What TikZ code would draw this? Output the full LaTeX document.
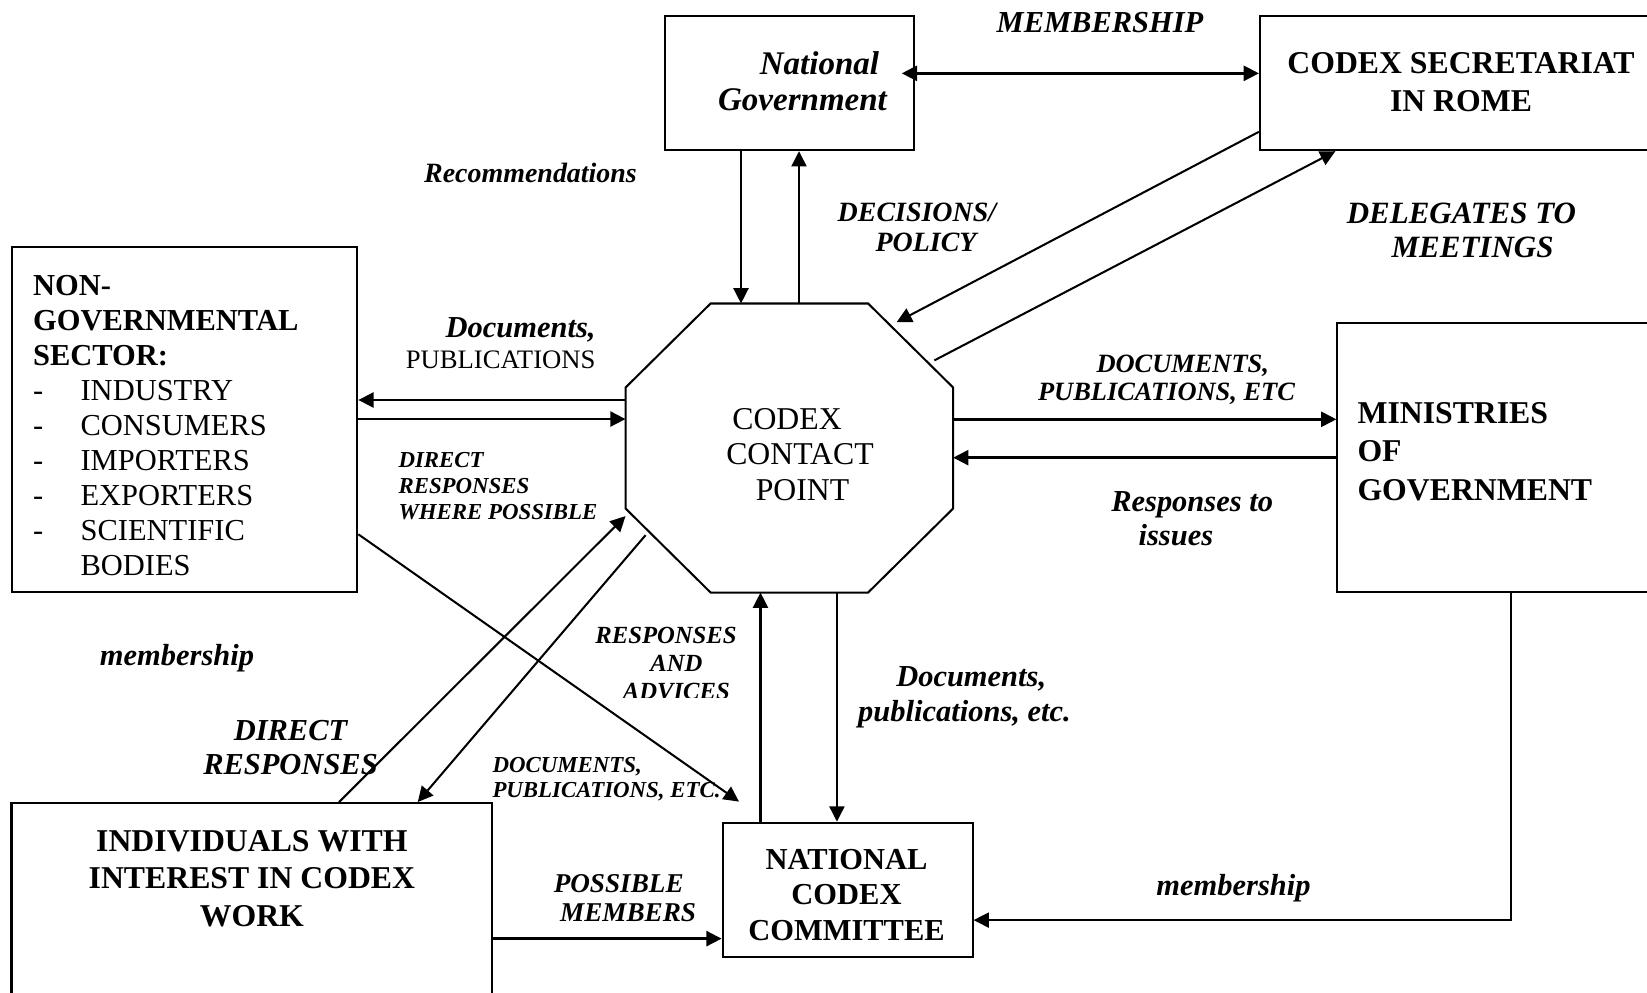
\documentclass[tikz,border=0pt]{standalone}
\usepackage{fontspec}
\setmainfont{Liberation Serif}
\usetikzlibrary{arrows.meta,calc}
\newcommand\fs[2]{\fontsize{#1}{#2}\selectfont}
\newcommand\gap[1]{\makebox[#1]{}}
\begin{document}
\begin{tikzpicture}[x=0.3937pt,y=-0.3937pt,
  box/.style={draw, line width=0.8pt, rectangle, inner sep=0pt},
  txt/.style={inner sep=0pt, align=center},
  conn/.style={line width=0.8pt},
  arr/.style={conn, -{Triangle[length=6pt,width=5.9pt]}},
  harr/.style={arr, line width=1pt},
  arrtwo/.style={line width=1pt, {Triangle[length=6pt,width=5.9pt]}-{Triangle[length=6pt,width=5.9pt]}},
  lab/.style={inner sep=0pt, font=\bfseries\itshape, align=center}]
\useasboundingbox (0,0) rectangle (1647,992);
\fill[white] (0,0) rectangle (1647,992);
\clip (0,0) rectangle (1647,992);

% ---------- boxes ----------
\node[box, minimum width=98pt, minimum height=52.9pt] (ng) at (789.5,83) {};
\node[txt, font={\bfseries\itshape\fs{13}{14.4}}] (ngt) at (811,81) {\gap{6.7pt}National\\Government\gap{6.7pt}};

\node[box, minimum width=158.3pt, minimum height=52.9pt] (cs) at (1461,83) {};
\node[txt, font={\bfseries\fs{12.5}{15}}] (cst) at (1461,82) {CODEX SECRETARIAT\\IN ROME};

\node[box, minimum width=166.4pt, minimum height=105.9pt] (min) at (1548.7,457.5) {};
\node[txt, align=left, anchor=west, font={\bfseries\fs{12.5}{15.1}}] (mint) at (1357,451.6) {MINISTRIES\\OF\\GOVERNMENT};

\node[box, minimum width=136.1pt, minimum height=135.8pt] (ngo) at (184.5,419.5) {};
\node[txt, align=left, anchor=west, font={\fs{12}{13.8}}] (ngot) at (32.6,425.5)
 {\textbf{NON-}\\\textbf{GOVERNMENTAL}\\\textbf{SECTOR:}\\
  \makebox[18.7pt][l]{-}INDUSTRY\\\makebox[18.7pt][l]{-}CONSUMERS\\\makebox[18.7pt][l]{-}IMPORTERS\\
  \makebox[18.7pt][l]{-}EXPORTERS\\\makebox[18.7pt][l]{-}SCIENTIFIC\\\hspace*{18.7pt}BODIES};

\node[box, minimum width=189.3pt, minimum height=116.9pt] (ind) at (251.9,951.5) {};
\node[txt, font={\bfseries\fs{12.5}{14.8}}] (indt) at (251.9,878.5) {INDIVIDUALS WITH\\INTEREST IN CODEX\\WORK};

\node[box, minimum width=98.4pt, minimum height=52.7pt] (ncc) at (847.6,889.6) {};
\node[txt, font={\bfseries\fs{12}{14}}] (ncct) at (846.5,895) {NATIONAL\\CODEX\\COMMITTEE};

\node[minimum width=128.6pt, minimum height=113.4pt, inner sep=0pt] (ccp) at (789.35,448) {};
\draw[line width=0.8pt] ([xshift=33.5pt]ccp.north west) -- ([xshift=-33.5pt]ccp.north east)
  -- ([yshift=-33.1pt]ccp.north east) -- ([yshift=33.1pt]ccp.south east)
  -- ([xshift=-33.5pt]ccp.south east) -- ([xshift=33.5pt]ccp.south west)
  -- ([yshift=33.1pt]ccp.south west) -- ([yshift=-33.1pt]ccp.north west) -- cycle;
\node[txt, font={\fs{12.5}{14.1}}] (ccpt) at (800,454.5) {CODEX\gap{10.2pt}\\CONTACT\\\gap{2pt}POINT};

% ---------- connectors ----------
\coordinate (a1) at ($(ng.east)+(0,3.8pt)$);
\draw[arrtwo, shorten <=-5.2pt] (a1) -- (a1 -| cs.west);
\coordinate (d1) at ($(ng.south)+(-19.1pt,0)$);
\draw[arr] (d1) -- (d1 |- ccp.north);
\coordinate (d2) at ($(ccp.north)+(3.8pt,0)$);
\draw[arr] (d2) -- (d2 |- ng.south);
\draw[arr] ($(cs.west)+(0,-19.2pt)$) -- ($(ccp.north east)+(-22.3pt,-7.4pt)$);
\draw[arr] ($(ccp.north east)+(-7.4pt,-22.4pt)$) -- ($(cs.south west)+(30.1pt,0)$);
\coordinate (e1) at ($(ccp.west)+(0,18.9pt)$);
\draw[harr] (e1) -- (e1 -| ngo.east);
\coordinate (e2) at ($(ccp.west)+(0,11.4pt)$);
\draw[harr] (e2 -| ngo.east) -- (e2);
\coordinate (e3) at ($(ccp.east)+(0,11.3pt)$);
\draw[harr] (e3) -- (e3 -| min.west);
\coordinate (e4) at ($(ccp.east)+(0,-3.8pt)$);
\draw[harr] (e4 -| min.west) -- (e4);
\draw[arr] ($(ngo.east)+(0,-45.2pt)$) -- ($(ncc.north west)+(6.85pt,7.9pt)$);
\draw[arr] ($(ind.north)+(34.3pt,0)$) -- ($(ccp.west)+(0,-26.8pt)$);
\draw[arr] ($(ccp.west)+(7.9pt,-34.3pt)$) -- ($(ind.north)+(65.3pt,0)$);
\coordinate (f1) at ($(ncc.north)+(-34.3pt,0)$);
\draw[arr] (f1) -- (f1 |- ccp.south);
\coordinate (f2) at ($(ncc.north)+(-4.2pt,0)$);
\draw[arr] (f2 |- ccp.south) -- (f2);
\coordinate (g1) at ($(ncc.west)+(0,-19.3pt)$);
\draw[harr] (g1 -| ind.east) -- (g1);
\coordinate (m1) at ($(min.south)+(-14.9pt,0)$);
\coordinate (m2) at ($(ncc.east)+(0,-12pt)$);
\draw[arr] (m1) |- (m2);

% ---------- labels ----------
\node[lab, font={\bfseries\itshape\fs{12}{14}}] (l1) at (1100,22.7) {MEMBERSHIP};
\node[lab, font={\bfseries\itshape\fs{11}{13}}] (l2) at (530.5,173) {Recommendations};
\node[lab, font={\bfseries\itshape\fs{11}{11.8}}] (l3) at (921.5,227.5) {DECISIONS/\gap{3.6pt}\\\gap{3.6pt}POLICY};
\node[lab, font={\bfseries\itshape\fs{12.2}{13.3}}] (l4) at (1467,230) {DELEGATES TO\gap{4.4pt}\\\gap{4.4pt}MEETINGS};
\node[lab, align=right, anchor=east, font={\bfseries\itshape\fs{12}{12.2}}] (l5) at (596,343.5) {Documents,\\{\mdseries\upshape\fontsize{10.5}{12.2}\selectfont PUBLICATIONS}};
\node[lab, align=left, anchor=west, font={\bfseries\itshape\fs{9}{10.3}}] (l6) at (398,486) {DIRECT\\RESPONSES\\WHERE POSSIBLE};
\node[lab, font={\bfseries\itshape\fs{10.4}{11.2}}] (l7) at (1174.6,379.7) {\gap{6.4pt}DOCUMENTS,\\PUBLICATIONS, ETC\gap{6.4pt}};
\node[lab, font={\bfseries\itshape\fs{12}{13.4}}] (l8) at (1184,519) {\gap{6.4pt}Responses to\\issues\gap{6.4pt}};
\node[lab, font={\bfseries\itshape\fs{12}{14}}] (l9) at (177,657.7) {membership};
\begin{scope}
\clip (560,600) rectangle (760,697.3);
\node[lab, font={\bfseries\itshape\fs{9.7}{11}}] (l10) at (671.3,663.5) {RESPONSES\gap{4.2pt}\\\gap{4pt}AND\\\gap{4pt}ADVICES};
\end{scope}
\node[lab, font={\bfseries\itshape\fs{12}{13.8}}] (l11) at (967,697.6) {\gap{3.3pt}Documents,\\publications, etc.\gap{2pt}};
\node[lab, font={\bfseries\itshape\fs{12}{13.4}}] (l12) at (290.5,748) {DIRECT\\RESPONSES};
\node[lab, align=left, anchor=west, font={\bfseries\itshape\fs{9}{9.9}}] (l13) at (492,779) {DOCUMENTS,\\PUBLICATIONS, ETC.};
\node[lab, font={\bfseries\itshape\fs{10.7}{11.3}}] (l14) at (623.4,898) {POSSIBLE\gap{3.7pt}\\\gap{3.7pt}MEMBERS};
\node[lab, font={\bfseries\itshape\fs{12}{14}}] (l15) at (1233.5,887.7) {membership};
\end{tikzpicture}
\end{document}
